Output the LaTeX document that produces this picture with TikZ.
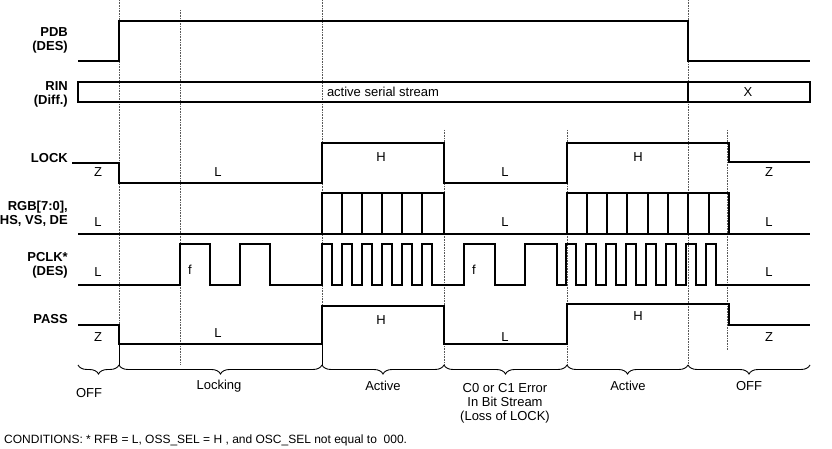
\documentclass[tikz,border=0pt]{standalone}
\usepackage{fontspec}
\setmainfont{Liberation Sans}
\usetikzlibrary{decorations.pathreplacing}
\begin{document}
\begin{tikzpicture}[x=1pt,y=-1pt,
  sig/.style={line width=2.6pt,line join=miter},
  grid/.style={densely dotted,line width=0.6pt,gray!70!black},
  lab/.style={font=\bfseries\fontsize{13}{14}\selectfont,anchor=east,align=right,inner sep=0pt},
  val/.style={font=\fontsize{13}{14}\selectfont,inner sep=0pt},
  br/.style={decorate,decoration={brace,mirror,amplitude=9pt},line width=0.9pt}]
\useasboundingbox (0,0) rectangle (832,449);
% grid
\foreach \x/\a/\b in {119/0/365,180/10/365,322/0/365,444/130/365,567/130/365,688/0/365,727/130/350}
  \draw[grid] (\x,\a) -- (\x,\b);
% labels
\node[lab] at (68,40) {PDB\\(DES)};
\node[lab] at (68,94) {RIN\\(Diff.)};
\node[lab] at (68,158) {LOCK};
\node[lab] at (68,214) {RGB[7:0],\\HS, VS, DE};
\node[lab] at (68,265) {PCLK*\\(DES)};
\node[lab] at (68,319) {PASS};
% PDB
\draw[sig] (78,61) -- (119,61) -- (119,21) -- (688,21) -- (688,61) -- (810,61);
% RIN
\draw[sig] (78,82) rectangle (810,102);
\draw[sig] (688,82) -- (688,102);
\node[val,fill=white,inner sep=1pt] at (383,92) {active serial stream};
\node[val] at (748,92) {X};
% LOCK
\draw[sig] (72,163) -- (119,163) -- (119,183) -- (322,183) -- (322,143) -- (444,143) -- (444,183) -- (567,183) -- (567,143) -- (729,143) -- (729,162) -- (810,162);
\foreach \x/\y/\t in {98/172/Z,218/172/L,381/157/H,505/172/L,638/157/H,769/172/Z}
  \node[val] at (\x,\y) {\t};
% RGB
\draw[sig] (78,234) -- (810,234);
\draw[sig] (322,234) -- (322,193) -- (444,193) -- (444,234);
\foreach \x in {342,362,382,402,422} \draw[sig] (\x,193) -- (\x,234);
\draw[sig] (567,234) -- (567,193) -- (729,193) -- (729,234);
\foreach \x in {587,607,627,648,668,688,709} \draw[sig] (\x,193) -- (\x,234);
\foreach \x/\y in {98/222,505/222,769/222}
  \node[val] at (\x,\y) {L};
% PCLK
\draw[sig] (78,285) -- (180,285) -- (180,244) -- (210,244) -- (210,285) -- (240,285) -- (240,244) -- (270,244) -- (270,285)
  -- (322,285)
  \foreach \x in {322,342,362,382,402,422} { -- (\x,285) -- (\x,244) -- (\x+10,244) -- (\x+10,285) }
  -- (464,285) -- (464,244) -- (495,244) -- (495,285) -- (525,285) -- (525,244) -- (557,244) -- (557,285)
  \foreach \x in {566,586,606,626,646,666,686,706} { -- (\x,285) -- (\x,244) -- (\x+10,244) -- (\x+10,285) }
  -- (810,285);
\foreach \x/\y/\t in {98/272/L,190/270/f,474/270/f,769/272/L}
  \node[val] at (\x,\y) {\t};
% PASS
\draw[sig] (78,325) -- (119,325) -- (119,344) -- (322,344) -- (322,306) -- (444,306) -- (444,344) -- (567,344) -- (567,304) -- (729,304) -- (729,325) -- (810,325);
\foreach \x/\y/\t in {98/337/Z,218/333/L,381/320/H,505/337/L,638/316/H,769/337/Z}
  \node[val] at (\x,\y) {\t};
\draw[line width=0.9pt] (119,344) -- (119,365) (322,344) -- (322,365);
% braces
\foreach \a/\b in {78/119,119/322,322/444,444/567,567/688,688/810}
  \draw[br] (\a,365) -- (\b,365);
\node[val] at (89,393) {OFF};
\node[val] at (219,386) {Locking};
\node[val] at (383,386) {Active};
\node[val,align=center] at (505,403) {C0 or C1 Error\\In Bit Stream\\(Loss of LOCK)};
\node[val] at (628,386) {Active};
\node[val] at (749,386) {OFF};
\node[val,anchor=west,font=\fontsize{12}{13}\selectfont] at (4,440) {CONDITIONS: * RFB = L, OSS\_SEL = H , and OSC\_SEL not equal to \ 000.};
\end{tikzpicture}
\end{document}
